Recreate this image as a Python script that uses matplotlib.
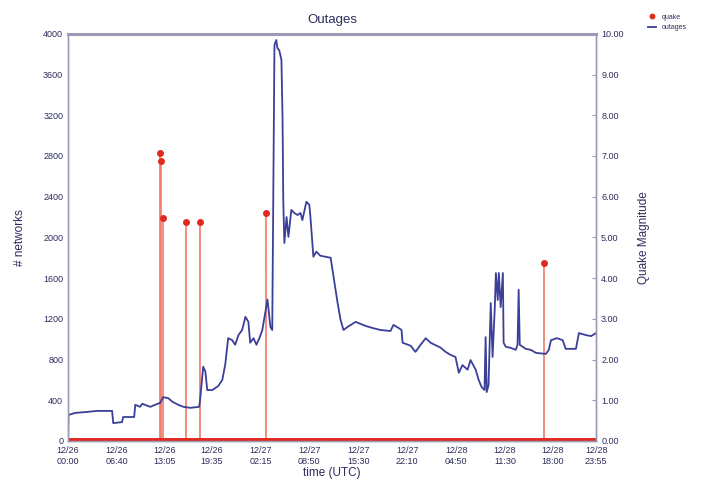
import numpy as np
import matplotlib
matplotlib.use('Agg')
import matplotlib.pyplot as plt

plt.rcParams['font.family'] = ['Liberation Sans', 'DejaVu Sans']

# outages: hours since 12/26 00:00 UTC, number of networks
horas = [0.0, 0.05, 0.95, 2.6, 3.95, 5.05, 6.0, 6.15, 7.35, 7.5, 9.0, 9.15, 9.8, 10.1,
         11.2, 11.85, 12.55, 12.95, 13.65, 14.2, 15.0, 15.7, 16.65, 17.85, 18.0, 18.4,
         18.7, 18.95, 19.65, 20.45, 21.0, 21.4, 21.8, 22.35, 22.75, 23.2, 23.7, 24.15,
         24.55, 24.8, 25.25, 25.65, 26.05, 26.45, 27.15, 27.55, 27.8, 28.1, 28.35, 28.5,
         28.75, 29.05, 29.2, 29.3, 29.45, 29.75, 30.0, 30.4, 30.8, 31.25, 31.65, 31.9,
         32.45, 32.85, 33.0, 33.4, 33.8, 34.35, 35.75, 36.15, 36.7, 37.1, 37.5, 38.05,
         39.15, 40.5, 41.45, 42.55, 43.9, 44.3, 45.0, 45.4, 45.55, 46.65, 47.3, 48.0,
         48.7, 49.35, 50.75, 51.4, 52.1, 52.75, 53.2, 53.7, 54.4, 54.8, 55.5, 55.9,
         56.3, 56.7, 56.85, 57.0, 57.25, 57.55, 57.8, 58.1, 58.25, 58.5, 58.65, 58.9,
         59.2, 59.3, 59.6, 60.25, 60.95, 61.2, 61.35, 61.5, 62.3, 63.0, 63.7, 65.05,
         65.45, 65.75, 66.55, 67.35, 67.75, 69.15, 69.55, 70.5, 71.2, 71.9]
redes = [0, 255, 275, 285, 295, 295, 295, 175, 185, 235, 235, 355, 335, 365,
         335, 355, 375, 430, 420, 385, 355, 335, 325, 335, 420, 730,
         680, 500, 500, 540, 600, 750, 1010, 990, 945, 1040, 1090, 1220,
         1170, 965, 1010, 945, 1010, 1090, 1390, 1120, 1090, 3890, 3940, 3860,
         3840, 3745, 3185, 2370, 1945, 2200, 2005, 2270, 2240, 2220, 2240, 2170,
         2350, 2320, 2200, 1810, 1860, 1820, 1800, 1610, 1355, 1190, 1090, 1120,
         1170, 1130, 1110, 1090, 1080, 1140, 1110, 1090, 965, 935, 875, 945,
         1010, 965, 915, 875, 845, 825, 670, 745, 700, 795, 700, 600,
         530, 500, 1020, 480, 550, 1355, 825, 1315, 1650, 1385, 1650, 1315,
         1650, 965, 925, 915, 895, 945, 1485, 945, 905, 895, 865, 855,
         895, 990, 1010, 990, 905, 905, 1060, 1040, 1030, 1060]

# quakes: hours, magnitude
t_quake = [12.55, 12.7, 12.95, 16.1, 18.0, 26.9, 64.8]
mag_quake = [7.08, 6.88, 5.48, 5.38, 5.38, 5.60, 4.37]

# ejes de tiempo
tick_horas = [0, 6.667, 13.083, 19.583, 26.25, 32.833, 39.5, 46.167, 52.833, 59.5, 66.0, 71.917]
tick_textos = ['12/26\n00:00', '12/26\n06:40', '12/26\n13:05', '12/26\n19:35',
               '12/27\n02:15', '12/27\n08:50', '12/27\n15:30', '12/27\n22:10',
               '12/28\n04:50', '12/28\n11:30', '12/28\n18:00', '12/28\n23:55']

azul = '#3b3f98'
rojo = '#e02a20'
texto = '#2c2c5c'
borde = '#9a9ab4'

fig = plt.figure(figsize=(7.09, 4.84), dpi=100)
ax = fig.add_axes([0.096, 0.089, 0.745, 0.841])
ax2 = ax.twinx()

# quakes on the right axis
ax2.vlines(t_quake, 0, mag_quake, color='#f07a6a', linewidth=1.2, zorder=2)
ax2.plot(t_quake, mag_quake, 'o', color=rojo, markersize=4, zorder=3, label='quake')
ax2.axhline(0, color=rojo, linewidth=5, zorder=4)
ax2.set_ylim(0, 10)
ax2.set_yticks(np.arange(0, 11, 1))
ax2.set_yticklabels(['%.2f' % v for v in range(11)])

ax.set_zorder(ax2.get_zorder() + 1)
ax.patch.set_visible(False)
linea, = ax.plot(horas, redes, color=azul, linewidth=1.3, label='outages')
ax.set_ylim(0, 4000)
ax.set_yticks(np.arange(0, 4001, 400))
ax.set_xlim(0, 71.917)
ax.set_xticks(tick_horas)
ax.set_xticklabels(tick_textos)

for a in (ax, ax2):
    a.tick_params(labelsize=6.5, colors=texto, direction='in', length=3, color=borde)
    for s in a.spines.values():
        s.set_color(borde)
        s.set_linewidth(1)
ax.spines['top'].set_linewidth(2.2)
ax.tick_params(axis='y', length=0)
ax.tick_params(axis='x', length=0, pad=4)

ax.set_title('Outages', fontsize=9.5, color=texto, pad=8)
ax.set_xlabel('time (UTC)', fontsize=8.5, color=texto, labelpad=1)
ax.set_ylabel('# networks', fontsize=8.5, color=texto, labelpad=12)
ax2.set_ylabel('Quake Magnitude', fontsize=8.5, color=texto, labelpad=10)

h1, l1 = ax2.get_legend_handles_labels()
fig.legend([h1[0], linea], ['quake', 'outages'], loc='upper left',
           bbox_to_anchor=(0.905, 0.985), frameon=False, fontsize=5,
           labelcolor=texto, handlelength=1.2, markerscale=0.8)

plt.savefig('out.png', dpi=100)
